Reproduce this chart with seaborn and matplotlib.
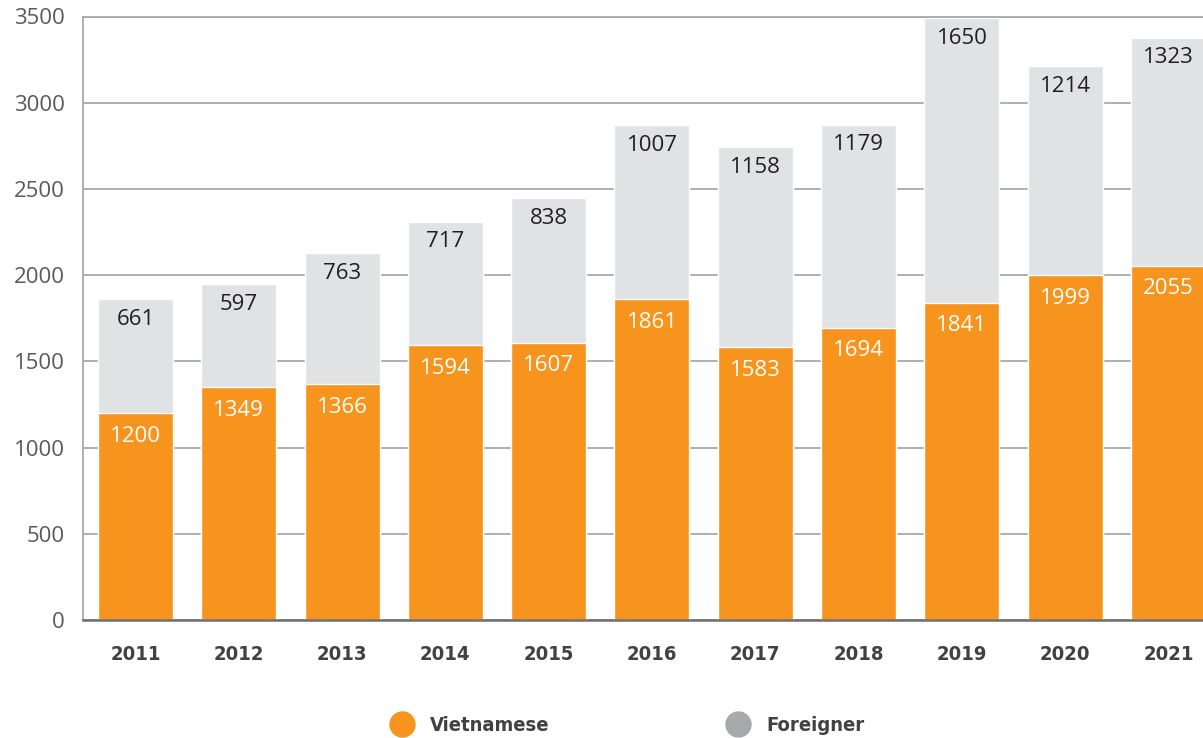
import matplotlib.pyplot as plt
import matplotlib.lines as mlines
import pandas as pd
import seaborn as sns


YEARS = ["2011", "2012", "2013", "2014", "2015", "2016",
         "2017", "2018", "2019", "2020", "2021"]
VIETNAMESE = [1200, 1349, 1366, 1594, 1607, 1861, 1583, 1694, 1841, 1999, 2055]
FOREIGNER = [661, 597, 763, 717, 838, 1007, 1158, 1179, 1650, 1214, 1323]
Y_TICKS = [0, 500, 1000, 1500, 2000, 2500, 3000, 3500]

ORANGE = "#F7941D"
LIGHT_GREY = "#E1E2E3"
MARKER_GREY = "#A7A9AC"
GRID_GREY = "#A7A9AC"
TEXT_DARK = "#414042"

sns.set_style("white")
plt.rcParams["font.family"] = ["Open Sans", "DejaVu Sans"]

df = pd.DataFrame({"year": YEARS, "vietnamese": VIETNAMESE, "foreigner": FOREIGNER})
df["total"] = df["vietnamese"] + df["foreigner"]

fig = plt.figure(figsize=(12.03, 7.38), dpi=100)
ax = fig.add_axes([82.5 / 1203, 1 - 620 / 738, 1 - 82.5 / 1203, (620 - 16.5) / 738])

sns.barplot(data=df, x="year", y="total", order=YEARS, color=LIGHT_GREY,
            saturation=1, width=0.726, ax=ax, zorder=2)
sns.barplot(data=df, x="year", y="vietnamese", order=YEARS, color=ORANGE,
            saturation=1, width=0.726, ax=ax, zorder=3)

for i, row in df.iterrows():
    ax.annotate(f"{row['foreigner']}", (i, row["total"]), xytext=(0, -7),
                textcoords="offset points", ha="center", va="top",
                fontsize=16, color="#231F20", zorder=4)
    ax.annotate(f"{row['vietnamese']}", (i, row["vietnamese"]), xytext=(0, -9),
                textcoords="offset points", ha="center", va="top",
                fontsize=16, color="white", zorder=4)

ax.set_xlim(-0.513, 10.334)
ax.set_ylim(0, 3500)
ax.set_yticks(Y_TICKS)
ax.yaxis.grid(True, color=GRID_GREY, linewidth=1.3, zorder=0)
ax.set_axisbelow(True)
ax.set_xlabel("")
ax.set_ylabel("")

ax.spines[["right"]].set_visible(False)
ax.spines["top"].set_color(GRID_GREY)
ax.spines["top"].set_linewidth(1.3)
ax.spines["left"].set_color(GRID_GREY)
ax.spines["left"].set_linewidth(1.3)
ax.spines["bottom"].set_color("#6D6E71")
ax.spines["bottom"].set_linewidth(1.8)
ax.spines["bottom"].set_zorder(5)

ax.tick_params(axis="y", length=0, pad=13, labelsize=16, labelcolor="#58595B")
ax.tick_params(axis="x", length=0, pad=18, labelsize=14.5, labelcolor=TEXT_DARK)
for lbl in ax.get_xticklabels():
    lbl.set_fontweight("bold")
    lbl.set_family(["DejaVu Sans"])
    lbl.set_fontstretch("condensed")

handles = [
    mlines.Line2D([], [], marker="o", linestyle="", markersize=18,
                  markerfacecolor=ORANGE, markeredgecolor=ORANGE, label="Vietnamese"),
    mlines.Line2D([], [], marker="o", linestyle="", markersize=18,
                  markerfacecolor=MARKER_GREY, markeredgecolor=MARKER_GREY, label="Foreigner"),
]
leg = fig.legend(handles=handles, loc="center", bbox_to_anchor=(0.518, 0.017),
                 ncol=2, frameon=False, columnspacing=8.35, handletextpad=0.4,
                 prop={"family": "DejaVu Sans", "weight": "bold",
                       "stretch": "condensed", "size": 14.5})
for t in leg.get_texts():
    t.set_color(TEXT_DARK)

fig.savefig("out.png", dpi=100)
